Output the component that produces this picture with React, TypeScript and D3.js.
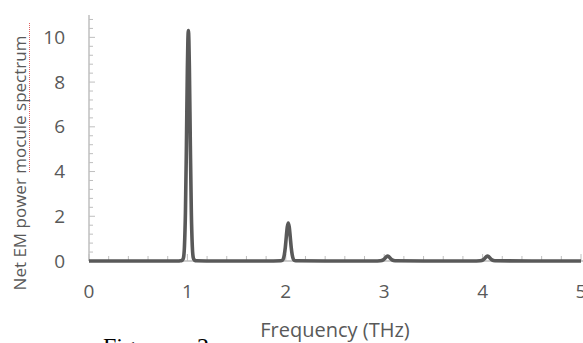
import React from "react";
import * as d3 from "d3";

const freqs = [
  0, 0.5, 0.9, 0.93, 0.94, 0.95, 0.96, 0.97, 0.98, 0.99, 1.0, 1.005, 1.01, 1.015, 1.02, 1.03, 1.04, 1.05, 1.06, 1.07, 1.08, 1.09, 1.3,
  1.8, 1.95, 1.965, 1.975, 1.985, 1.995, 2.005, 2.015, 2.025, 2.035, 2.045, 2.055, 2.065, 2.075, 2.085, 2.1, 2.4,
  2.9, 2.96, 2.99, 3.01, 3.025, 3.035, 3.045, 3.06, 3.08, 3.11, 3.4,
  3.9, 3.975, 4.005, 4.025, 4.04, 4.05, 4.06, 4.075, 4.095, 4.125, 4.5, 5.0,
];
const power = [
  0, 0, 0, 0.01, 0.02, 0.05, 0.14, 0.65, 2.17, 5.15, 8.66, 9.87, 10.3, 9.87, 8.66, 5.15, 2.17, 0.65, 0.14, 0.05, 0.02, 0.01, 0,
  0, 0.01, 0.03, 0.1, 0.28, 0.61, 1.08, 1.52, 1.7, 1.52, 1.08, 0.61, 0.28, 0.1, 0.03, 0.01, 0,
  0, 0.01, 0.05, 0.13, 0.2, 0.22, 0.2, 0.13, 0.05, 0.01, 0,
  0, 0.01, 0.05, 0.13, 0.2, 0.22, 0.2, 0.13, 0.05, 0.01, 0, 0,
];
const xTicks = [0, 1, 2, 3, 4, 5];
const yTicks = [0, 2, 4, 6, 8, 10];
const xTitle = "Frequency (THz)";
const yTitle = "Net EM power mocule spectrum";

const W = 583;
const H = 343;

export default function App() {
  const x = d3.scaleLinear().domain([0, 5]).range([89, 581]);
  const y = d3.scaleLinear().domain([0, 11]).range([261, 15]);
  const xMinor = d3.range(0, 5.001, 0.2);
  const yMinor = d3.range(0, 10.99, 0.4);
  const pts: [number, number][] = freqs.map((f, i) => [f, power[i]]);
  const line = d3
    .line<[number, number]>()
    .x((d) => x(d[0]))
    .y((d) => y(d[1]))
    .curve(d3.curveMonotoneX);
  const axisColor = "#bfbfbf";
  const textColor = "#595959";
  const font = "'Open Sans', sans-serif";
  return (
    <svg
      width={W}
      height={H}
      style={{ position: "absolute", left: 0, top: 0, background: "#fff" }}
    >
      <rect x={0} y={0} width={W} height={H} fill="#fff" />
      {/* axes */}
      <line x1={x(0)} x2={x(0)} y1={y(11)} y2={y(0)} stroke={axisColor} strokeWidth={1.5} />
      <line x1={x(0)} x2={W} y1={y(0)} y2={y(0)} stroke={axisColor} strokeWidth={1.5} />
      {yMinor.map((v, i) => (
        <line key={"ym" + i} x1={x(0)} x2={x(0) + (i % 5 === 0 ? 6 : 4)} y1={y(v)} y2={y(v)} stroke={axisColor} strokeWidth={1} />
      ))}
      {xMinor.map((v, i) => (
        <line key={"xm" + i} x1={x(v)} x2={x(v)} y1={y(0)} y2={y(0) - (i % 5 === 0 ? 7 : 5)} stroke={axisColor} strokeWidth={1} />
      ))}
      {/* tick labels */}
      {yTicks.map((v) => (
        <text key={"yl" + v} x={65} y={y(v) + 6.5} textAnchor="end" fontFamily={font} fontSize={19} fill={textColor}>
          {v}
        </text>
      ))}
      {xTicks.map((v) => (
        <text key={"xl" + v} x={x(v)} y={297.5} textAnchor="middle" fontFamily={font} fontSize={19} fill={textColor}>
          {v}
        </text>
      ))}
      {/* data */}
      <path d={line(pts) || ""} fill="none" stroke="#595959" strokeWidth={3.6} strokeLinejoin="round" />
      {/* titles */}
      <text x={335} y={337} textAnchor="middle" fontFamily={font} fontSize={20} fill={textColor}>
        {xTitle}
      </text>
      <g transform="translate(26,163) rotate(-90)">
        <text x={0} y={0} textAnchor="middle" fontFamily={font} fontSize={17} fill={textColor}>
          {yTitle}
        </text>
      </g>
      {/* spell-check underline */}
      <line x1={29.5} x2={29.5} y1={23} y2={172} stroke="#e06060" strokeWidth={1} strokeDasharray="1,1" />
      {/* caption partially visible */}
      <text x={103} y={354} fontFamily="'Liberation Serif', 'Times New Roman', serif" fontSize={24} fill="#000">
        Figure
      </text>
      <text x={197} y={354} fontFamily="'Liberation Serif', 'Times New Roman', serif" fontSize={24} fill="#000">
        2
      </text>
    </svg>
  );
}
